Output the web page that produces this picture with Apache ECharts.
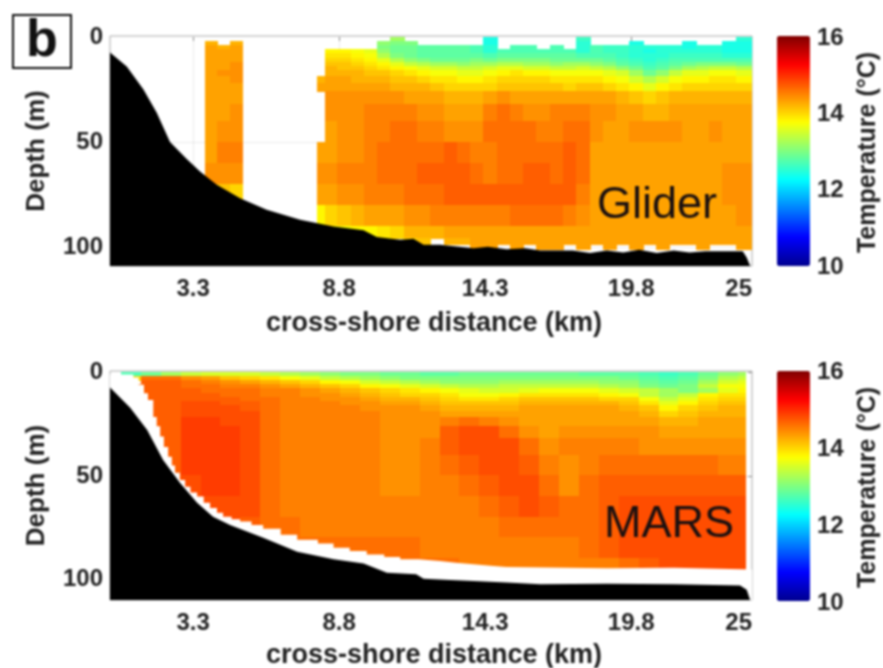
<!DOCTYPE html>
<html><head><meta charset="utf-8">
<style>html,body{margin:0;background:#fff}#c{width:883px;height:668px;filter:blur(0.8px)}</style>
<script src="https://cdn.jsdelivr.net/npm/echarts@6/dist/echarts.min.js"></script>
</head><body><div id="c"></div>
<script>
const tickKm=[3.3,8.8,14.3,19.8,24.35];
const tickKmLabels=['3.3','8.8','14.3','19.8','25'];
const tickDepth=[0,50,100];
const jetColors=['#00008f','#0000ff','#0080ff','#00ffff','#80ff80','#ffff00','#ff8000','#ff0000','#800000'];

const gliderBathy=[[0.17,7.3],[0.8,14],[1.43,25],[1.93,36],[2.43,50],[3.06,58],[3.56,64],[4.19,70.3],[5.07,76.7],[6.07,82.2],[7.33,87],[8.59,90.2],[9.72,92],[10.22,95.2],[11.1,96.5],[11.6,96],[11.98,98.9],[12.6,98.9],[13.86,100.5],[14.4,99.8],[15.1,101],[15.8,100.6],[16.37,101.6],[17.6,101.6],[18.25,102.8],[18.88,101.6],[19.5,102.6],[20.1,101.3],[20.76,102.8],[21.4,101.6],[22,102.6],[22.6,102],[24,102],[24.15,105],[24.28,109]];
const marsBathy=[[0.17,7.3],[0.93,17.1],[1.57,27.8],[2.17,42.3],[2.81,53.4],[3.45,63],[4.05,69.8],[4.69,73.7],[5.94,79.9],[7.22,86.7],[8.59,90.3],[9.72,92.3],[10.6,96.8],[11.7,97.6],[11.98,99.7],[12.98,100.3],[13.86,100.8],[15.1,101.6],[16.37,102.4],[18.88,102.2],[21.4,102.4],[23.9,103],[24.15,105],[24.28,110]];
const marsFloor=[[0.17,1],[1.05,2.4],[1.25,6],[1.45,10],[1.6,13.3],[1.8,21.5],[1.93,26],[2.06,31],[2.2,36],[2.36,40.8],[2.5,45],[2.62,48.5],[2.8,52],[3,55.3],[3.2,58],[3.45,60],[3.7,63],[3.94,65.5],[4.2,67.8],[4.43,69.8],[4.75,71],[5.07,72],[5.5,73.8],[5.94,75.5],[6.6,78.5],[7.22,80.9],[8,82.7],[8.59,84.7],[9.2,86.3],[9.84,88],[10.5,89.2],[11.1,90.3],[11.8,91.2],[12.6,92],[13.2,92.7],[13.86,93.5],[14.5,94.1],[15.1,94.7],[18.88,94.4],[21.4,95.2],[24.35,96.3]];

const gliderDepthEdges=[0,2,4,6,8,10,12,14,16,19,22,26,32,40,50,60,70,80,90,96,99,101];
const gliderNearKm=[3.75,4.22,4.69,5.16];
const gliderNear=[
[0,0,0],[142,0,142],[143,142,143],[143,143,143],[143,143,143],[143,143,143],[143,143,144],[143,143,144],[143,144,144],[143,143,144],[143,143,143],[143,143,143],[143,143,144],[143,144,144],[143,145,145],[144,144,144],[142,141,140],[0,0,0],[0,0,0],[0,0,0],[0,0,0]];
const gliderFarKm=[8.0,8.27,8.75,9.25,9.75,10.25,10.75,11.25,11.75,12.25,12.75,13.25,13.75,14.25,14.75,15.25,15.75,16.25,16.75,17.25,17.75,18.25,18.75,19.25,19.75,20.25,20.75,21.25,21.75,22.25,22.75,23.25,23.75,24.35];
const gliderFar=[
[0,0,0,0,0,0,132,0,0,0,0,0,0,124,0,0,0,0,0,0,126,0,0,0,0,0,0,0,0,0,0,0,125],
[0,0,0,0,0,131,130,130,0,0,0,0,0,124,0,0,0,0,0,0,125,0,0,0,124,0,0,0,124,0,0,124,124],
[0,0,0,0,0,130,129,129,128,128,128,128,127,125,0,127,127,0,127,0,125,127,126,126,125,125,125,125,124,125,125,124,124],
[0,138,138,137,136,131,129,129,128,128,128,128,127,125,127,127,127,127,127,127,125,127,126,126,125,124,125,125,125,125,125,124,124],
[0,139,139,138,137,133,130,129,128,128,128,128,128,127,128,128,128,128,128,128,127,127,127,126,125,125,125,126,126,126,126,125,125],
[0,140,140,139,138,136,133,131,130,129,129,129,130,129,130,130,130,130,129,129,129,129,128,127,126,125,126,127,127,127,127,127,127],
[0,141,141,140,139,138,136,134,133,132,132,131,132,132,133,133,132,132,131,132,132,131,130,128,127,126,127,128,129,130,130,130,129],
[0,142,141,141,140,139,138,137,136,135,135,134,134,135,136,136,135,135,134,134,135,134,133,131,129,127,128,130,132,133,134,134,133],
[0,142,142,142,141,141,140,139,138,137,137,136,136,137,138,139,138,138,137,137,137,137,136,135,132,129,131,134,136,136,137,137,136],
[142,143,143,142,142,142,141,141,140,139,139,138,138,139,140,140,140,140,139,139,139,139,138,137,135,133,135,137,138,138,139,139,138],
[143,143,143,143,143,143,142,142,142,141,140,140,140,140,141,141,141,141,141,140,141,141,140,139,138,136,138,139,140,140,140,140,140],
[0,144,144,144,144,144,144,143,143,143,142,142,142,143,144,143,143,143,143,143,143,143,143,142,141,140,141,142,142,142,142,142,142],
[0,144,144,144,145,145,145,145,144,144,143,143,143,145,146,145,144,144,145,145,145,144,144,143,143,142,142,143,143,143,143,143,143],
[0,143,144,144,145,145,146,146,145,145,144,144,144,146,146,146,146,145,145,146,146,144,143,143,144,144,144,144,143,143,144,143,143],
[143,143,144,144,145,146,146,146,146,146,147,146,145,145,146,146,146,146,146,147,146,143,143,143,143,143,143,143,143,143,143,143,143],
[144,144,145,145,145,146,146,146,147,147,147,147,146,145,146,146,147,147,146,147,146,143,143,143,143,143,143,143,143,143,143,144,144],
[143,143,144,144,145,145,145,146,146,146,147,147,147,147,147,147,147,147,147,147,145,143,143,143,143,143,143,143,143,143,143,144,144],
[138,140,141,142,143,143,143,144,144,145,145,145,145,145,145,146,146,146,146,145,144,143,143,143,143,143,143,143,143,143,143,143,144],
[0,137,137,138,138,139,140,142,142,142,143,143,143,143,143,143,143,143,143,143,143,143,143,143,143,143,143,143,143,143,143,143,143],
[0,0,0,0,0,137,0,140,141,0,142,142,143,143,143,143,143,143,143,143,143,143,143,143,143,143,143,143,143,143,143,143,143],
[0,0,0,0,0,0,0,0,0,0,0,0,143,143,0,143,0,143,143,0,143,0,143,0,143,0,143,0,0,143,0,0,143]];

const marsKm=[0.6,1.35,2.1,2.85,3.6,4.35,5.1,5.85,6.6,7.35,8.1,8.85,9.6,10.35,11.1,11.85,12.6,13.35,14.1,14.85,15.6,16.35,17.1,17.85,18.6,19.35,20.1,20.85,21.6,22.35,23.1,23.85,24.1];
const marsDepthEdges=[0,2,4,6,8,10,12,14,16,19,22,26,32,40,50,60,70,80,90,100];
const marsTemp=[
[127,129,132,134,135,135,135,134,133,132,131,130,130,129,129,128,128,129,129,129,129,129,129,128,128,128,127,126,127,129,131,132],
[140,146,146,144,143,141,140,139,137,136,134,133,132,131,130,130,130,130,130,130,130,130,130,130,130,129,128,127,128,130,133,134],
[0,147,147,146,145,144,143,142,141,140,138,137,135,134,133,132,131,131,131,132,132,132,132,132,131,131,129,128,129,132,135,136],
[146,147,147,146,146,145,145,144,143,142,141,140,138,137,136,135,134,133,133,134,134,134,134,134,133,132,130,129,130,134,137,137],
[147,147,147,147,146,146,146,145,145,144,143,142,141,140,139,138,137,136,135,135,136,137,137,137,136,135,134,132,130,132,136,138],
[147,147,147,147,147,146,146,145,145,144,144,143,142,141,140,140,139,137,137,138,139,139,139,139,138,137,134,132,134,138,139,139],
[147,147,147,147,147,147,146,146,145,145,144,144,143,142,142,141,140,139,139,140,141,141,141,141,140,140,137,134,136,139,140,140],
[147,147,147,148,148,147,147,146,145,145,145,144,144,143,143,142,141,141,141,141,142,142,142,142,142,141,139,136,138,140,141,141],
[147,147,147,148,148,148,147,146,145,145,145,145,144,144,144,143,142,142,142,142,143,143,143,143,143,142,141,138,140,141,142,142],
[147,147,147,148,148,148,148,146,145,145,145,145,145,144,144,144,143,143,143,143,143,143,143,143,143,143,142,140,141,142,142,142],
[147,147,147,149,149,148,148,146,145,145,145,145,145,144,144,144,145,146,145,144,143,143,143,143,143,143,143,142,142,143,143,143],
[147,147,147,149,149,149,148,146,145,145,145,145,145,144,144,144,147,148,148,146,144,143,144,144,144,144,144,143,143,143,143,143],
[0,147,147,149,149,149,148,146,145,145,145,145,145,144,144,145,147,148,148,148,146,144,145,145,145,145,144,144,144,144,144,144],
[0,0,147,149,149,149,148,146,145,145,145,145,145,144,144,145,146,147,148,148,147,145,144,145,146,146,146,146,146,146,145,145],
[0,0,147,148,149,149,148,146,145,145,145,145,145,144,144,145,145,146,147,148,148,146,144,146,147,147,147,147,147,147,147,147],
[0,0,0,148,148,148,148,146,145,145,145,145,145,145,145,145,145,145,146,147,148,147,146,146,147,148,148,148,148,148,148,148],
[0,0,0,0,148,148,147,146,146,145,145,145,145,145,145,145,145,145,145,146,146,146,146,146,147,148,148,148,148,148,148,148],
[0,0,0,0,0,0,0,146,146,146,146,146,146,146,146,145,145,145,145,145,145,145,145,146,147,148,148,148,148,148,148,148],
[0,0,0,0,0,0,0,0,0,0,146,146,146,146,146,146,146,145,145,145,145,145,145,145,145,146,147,148,148,148,148,148]];

function cells(kmEdges,depthEdges,rows){
  const out=[];
  rows.forEach((row,r)=>row.forEach((t,c)=>{
    if(t) out.push([kmEdges[c],kmEdges[c+1],depthEdges[r],depthEdges[r+1],t/10]);
  }));
  return out;
}
function renderCell(params,api){
  const a=api.coord([api.value(0),api.value(2)]), b=api.coord([api.value(1),api.value(3)]);
  const x=Math.floor(a[0]), y=Math.floor(a[1]);
  return {type:'rect',shape:{x:x,y:y,width:Math.ceil(b[0])-x,height:Math.ceil(b[1])-y},
    style:{fill:api.visual('color'),stroke:null}};
}
const FONT='"Liberation Sans",Arial,sans-serif';
const TICKC='#222';
function heat(idx,data){
  return {type:'custom',xAxisIndex:idx*2,yAxisIndex:idx*2,data:data,renderItem:renderCell,clip:true,silent:true,
    encode:{x:[0,1],y:[2,3]},z:2};
}
function area(idx,data,color,z,step){
  return {type:'line',xAxisIndex:idx*2,yAxisIndex:idx*2,data:data,showSymbol:false,symbol:'none',step:step||false,silent:true,
    lineStyle:{width:0},itemStyle:{color:color},areaStyle:{color:color,opacity:1,origin:'end'},z:z};
}
const grids=[
 {left:110,top:36,width:642,height:230},
 {left:110,top:371,width:642,height:229}];
const yRange=[[-0.5,109],[-0.7,110]];
const xNameGap=[44,42];
const xAxes=[],yAxes=[];
grids.forEach((g,i)=>{
  xAxes.push({type:'value',gridIndex:i,min:0.17,max:24.35,position:'bottom',
    axisLine:{show:false},
    axisTick:{show:false,customValues:tickKm.slice(0,4)},
    splitLine:{show:true,lineStyle:{color:'#d8d8d8',type:'dotted',width:1}},
    axisLabel:{customValues:tickKm,alignMaxLabel:'right',showMaxLabel:true,fontFamily:FONT,fontWeight:'bold',fontSize:24,color:TICKC,margin:11,
      formatter:v=>tickKmLabels[tickKm.indexOf(v)]},
    name:'cross-shore distance (km)',nameLocation:'middle',nameGap:xNameGap[i],
    nameTextStyle:{fontFamily:FONT,fontWeight:'bold',fontSize:27,color:TICKC,padding:[0,0,0,6]}});
  xAxes.push({type:'value',gridIndex:i,min:0.17,max:24.35,position:'top',
    axisLine:{show:false},axisLabel:{show:false},splitLine:{show:false},
    axisTick:{show:true,customValues:tickKm.slice(0,4),inside:true,length:4,lineStyle:{color:'#888'}}});
  yAxes.push({type:'value',gridIndex:i,inverse:true,min:yRange[i][0],max:yRange[i][1],
    axisLine:{show:false},axisTick:{show:false,customValues:tickDepth.slice(1)},
    splitLine:{show:true,lineStyle:{color:'#d8d8d8',type:'dotted',width:1}},
    axisLabel:{customValues:tickDepth,fontFamily:FONT,fontWeight:'bold',fontSize:24,color:TICKC,margin:7,padding:[4,0,0,0]},
    name:'Depth (m)',nameLocation:'middle',nameGap:60,
    nameTextStyle:{fontFamily:FONT,fontWeight:'bold',fontSize:26,color:TICKC}});
  yAxes.push({type:'value',gridIndex:i,inverse:true,min:yRange[i][0],max:yRange[i][1],position:'right',
    axisLine:{show:false},axisLabel:{show:false},splitLine:{show:false},
    axisTick:{show:true,customValues:tickDepth,inside:true,length:4,lineStyle:{color:'#888'}}});
});
// colour-bar tick axes
[[38,229],[372,231]].forEach((b,j)=>{
  grids.push({left:777,top:b[0],width:33,height:b[1]});
  xAxes.push({type:'value',gridIndex:2+j,min:0,max:1,show:false});
  yAxes.push({type:'value',gridIndex:2+j,min:10,max:16,interval:2,position:'right',
    axisLine:{show:false},axisTick:{show:false},splitLine:{show:false},
    axisLabel:{fontFamily:FONT,fontWeight:'bold',fontSize:24,color:TICKC,margin:7},
    name:'Temperature (°C)',nameLocation:'middle',nameRotate:90,nameGap:46,
    nameTextStyle:{fontFamily:FONT,fontWeight:'bold',fontSize:25,color:TICKC}});
});
const bar=(top,seriesIndex)=>({type:'continuous',min:10,max:16,dimension:4,seriesIndex:seriesIndex,
  left:777,top:top,itemWidth:33,itemHeight:230,padding:0,showLabel:false,calculable:false,hoverLink:false,
  text:null,inRange:{color:jetColors},outOfRange:{color:jetColors}});
const option={
  animation:false,backgroundColor:'#fff',
  grid:grids.map((g,i)=>Object.assign({show:i<2,borderColor:'#aaa',borderWidth:1,backgroundColor:'#fff',outerBoundsMode:'none'},g)),
  xAxis:xAxes,yAxis:yAxes,
  visualMap:[bar(36,[0,1]),bar(371,[3])],
  series:[
    heat(0,cells(gliderNearKm,gliderDepthEdges,gliderNear)),
    heat(0,cells(gliderFarKm,gliderDepthEdges,gliderFar)),
    area(0,gliderBathy,'#000',5),
    heat(1,cells(marsKm,marsDepthEdges,marsTemp)),
    area(1,marsFloor,'#fff',4,'end'),
    area(1,marsBathy,'#000',5)
  ],
  graphic:[
    {type:'rect',left:12,top:14,shape:{width:58,height:53},style:{fill:'#fff',stroke:'#111',lineWidth:2},z:20},
    {type:'text',left:26,top:16,style:{text:'b',font:'bold 52px "Liberation Sans"',fill:'#111'},z:21},
    {type:'text',left:597,top:183,style:{text:'Glider',font:'45px "Liberation Sans"',fill:'#1a1010'},z:21},
    {type:'text',left:604,top:502,style:{text:'MARS',font:'45px "Liberation Sans"',fill:'#1a1010'},z:21}
  ]
};
echarts.init(document.getElementById('c'),null,{renderer:'canvas'}).setOption(option);
</script></body></html>
